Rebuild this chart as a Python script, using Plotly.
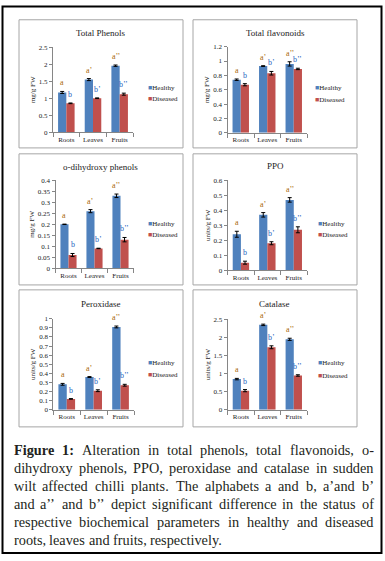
import plotly.graph_objects as go

# ---------------- data ----------------
categories = ["Roots", "Leaves", "Fruits"]
series_names = ["Healthy", "Diseased"]
healthy_letters = ["a", "a’", "a’’"]
diseased_letters = ["b", "b’", "b’’"]

phenols_title = "Total Phenols"
phenols_unit = "mg/g FW"
phenols_healthy = [1.17, 1.55, 1.96]
phenols_diseased = [0.85, 1.00, 1.12]
phenols_healthy_err = [0.03, 0.03, 0.02]
phenols_diseased_err = [0.01, 0.01, 0.03]
phenols_ticks = [0, 0.5, 1, 1.5, 2, 2.5]

flavonoids_title = "Total flavonoids"
flavonoids_unit = "mg/g FW"
flavonoids_healthy = [0.74, 0.93, 0.96]
flavonoids_diseased = [0.67, 0.83, 0.89]
flavonoids_healthy_err = [0.01, 0.005, 0.03]
flavonoids_diseased_err = [0.015, 0.025, 0.01]
flavonoids_ticks = [0, 0.2, 0.4, 0.6, 0.8, 1, 1.2]

odp_title = "o-dihydroxy phenols"
odp_unit = "mg/g FW"
odp_healthy = [0.20, 0.26, 0.33]
odp_diseased = [0.06, 0.09, 0.13]
odp_healthy_err = [0.001, 0.007, 0.008]
odp_diseased_err = [0.007, 0.001, 0.01]
odp_ticks = [0, 0.05, 0.1, 0.15, 0.2, 0.25, 0.3, 0.35, 0.4]

ppo_title = "PPO"
ppo_unit = "units/g FW"
ppo_healthy = [0.24, 0.37, 0.47]
ppo_diseased = [0.05, 0.18, 0.27]
ppo_healthy_err = [0.02, 0.015, 0.015]
ppo_diseased_err = [0.01, 0.01, 0.02]
ppo_ticks = [0, 0.1, 0.2, 0.3, 0.4, 0.5, 0.6]

perox_title = "Peroxidase"
perox_unit = "units/g FW"
perox_healthy = [0.28, 0.36, 0.91]
perox_diseased = [0.12, 0.21, 0.27]
perox_healthy_err = [0.01, 0.005, 0.01]
perox_diseased_err = [0.003, 0.01, 0.01]
perox_ticks = [0, 0.1, 0.2, 0.3, 0.4, 0.5, 0.6, 0.7, 0.8, 0.9, 1]

catalase_title = "Catalase"
catalase_unit = "units/g FW"
catalase_healthy = [0.85, 2.35, 1.95]
catalase_diseased = [0.53, 1.73, 0.95]
catalase_healthy_err = [0.02, 0.02, 0.03]
catalase_diseased_err = [0.03, 0.04, 0.02]
catalase_ticks = [0, 0.5, 1, 1.5, 2, 2.5]

caption_lines = [
    "Figure 1: Alteration in total phenols, total flavonoids, o-",
    "dihydroxy phenols, PPO, peroxidase and catalase in sudden",
    "wilt affected chilli plants. The alphabets a and b, a’and b’",
    "and a’’ and b’’ depict significant difference in the status of",
    "respective biochemical parameters in healthy and diseased",
    "roots, leaves and fruits, respectively.",
]

# ---------------- styling / layout ----------------
W, H = 385, 561
HEALTHY_COLOR = "#4F81BD"
DISEASED_COLOR = "#C0504D"
HEALTHY_LETTER_COLOR = "#a8690a"
DISEASED_LETTER_COLOR = "#1f66c0"
AXIS_COLOR = "#868686"
TEXT_COLOR = "#1a1a1a"
SERIF = "Liberation Serif"
BARGAP = 0.38


def fx(px):
    return px / W


def fy(py):
    return 1 - py / H


panels = [
    dict(title=phenols_title, unit=phenols_unit, h=phenols_healthy, d=phenols_diseased,
         he=phenols_healthy_err, de=phenols_diseased_err, ticks=phenols_ticks,
         box=(19, 16, 183, 146), px=(53, 133), py=(130, 44), tpos=(101, 29),
         leg=(146, 85.7, 96.7)),
    dict(title=flavonoids_title, unit=flavonoids_unit, h=flavonoids_healthy, d=flavonoids_diseased,
         he=flavonoids_healthy_err, de=flavonoids_diseased_err, ticks=flavonoids_ticks,
         box=(193, 16, 357, 146), px=(227.5, 307), py=(130.7, 43.3), tpos=(275, 29),
         leg=(313, 85, 97)),
    dict(title=odp_title, unit=odp_unit, h=odp_healthy, d=odp_diseased,
         he=odp_healthy_err, de=odp_diseased_err, ticks=odp_ticks,
         box=(19, 152, 183, 285), px=(55.5, 133.5), py=(268, 179), tpos=(101, 165),
         leg=(146, 222.7, 234)),
    dict(title=ppo_title, unit=ppo_unit, h=ppo_healthy, d=ppo_diseased,
         he=ppo_healthy_err, de=ppo_diseased_err, ticks=ppo_ticks,
         box=(193, 152, 357, 285), px=(227.7, 307), py=(270, 179), tpos=(275, 164),
         leg=(316, 223, 234)),
    dict(title=perox_title, unit=perox_unit, h=perox_healthy, d=perox_diseased,
         he=perox_healthy_err, de=perox_diseased_err, ticks=perox_ticks,
         box=(19, 290, 183, 429), px=(53.3, 134), py=(411.7, 319.3), tpos=(101, 304),
         leg=(146, 364, 376.7)),
    dict(title=catalase_title, unit=catalase_unit, h=catalase_healthy, d=catalase_diseased,
         he=catalase_healthy_err, de=catalase_diseased_err, ticks=catalase_ticks,
         box=(193, 290, 357, 429), px=(227.7, 307), py=(411.7, 320), tpos=(274, 304),
         leg=(316, 364, 377)),
]

fig = go.Figure()
annotations = []
shapes = []
layout_axes = {}

for k, p in enumerate(panels):
    n = "" if k == 0 else str(k + 1)
    xa, ya = "x" + n, "y" + n
    for name, vals, errs, color in (
        (series_names[0], p["h"], p["he"], HEALTHY_COLOR),
        (series_names[1], p["d"], p["de"], DISEASED_COLOR),
    ):
        fig.add_trace(go.Bar(
            x=categories, y=vals, name=name, xaxis=xa, yaxis=ya,
            marker=dict(color=color, line=dict(width=0)),
            error_y=dict(type="data", array=errs, color="black", thickness=1, width=2),
            showlegend=False,
        ))
    ticks = p["ticks"]
    layout_axes["xaxis" + n] = dict(
        domain=[fx(p["px"][0]), fx(p["px"][1])], anchor=ya,
        type="category", range=[-0.5, 2.5], showline=True, linecolor=AXIS_COLOR, linewidth=1,
        ticks="outside", tickson="boundaries", ticklen=4, tickcolor=AXIS_COLOR, tickangle=0,
        tickfont=dict(family=SERIF, size=7, color=TEXT_COLOR), showgrid=False, zeroline=False,
        fixedrange=True,
    )
    layout_axes["yaxis" + n] = dict(
        domain=[fy(p["py"][0]), fy(p["py"][1])], anchor=xa,
        range=[ticks[0], ticks[-1]], tickvals=ticks, ticktext=[f"{t:g}" for t in ticks],
        showline=True, linecolor=AXIS_COLOR, linewidth=1,
        ticks="outside", ticklen=3, tickcolor=AXIS_COLOR,
        tickfont=dict(family=SERIF, size=7, color=TEXT_COLOR), showgrid=False, zeroline=False,
        title=dict(text=p["unit"], font=dict(family=SERIF, size=7, color=TEXT_COLOR), standoff=2),
        fixedrange=True,
    )
    # panel border
    x0, y0, x1, y1 = p["box"]
    shapes.append(dict(type="rect", xref="paper", yref="paper",
                       x0=fx(x0), x1=fx(x1), y0=fy(y1), y1=fy(y0),
                       line=dict(color="#a6a6a6", width=1), fillcolor="rgba(0,0,0,0)"))
    # title
    annotations.append(dict(text=p["title"], xref="paper", yref="paper",
                            x=fx(p["tpos"][0]), y=fy(p["tpos"][1]), xanchor="center", yanchor="middle",
                            showarrow=False, font=dict(family=SERIF, size=9, color=TEXT_COLOR)))
    # legend
    lx, ly1, ly2 = p["leg"]
    for name, color, ly in ((series_names[0], HEALTHY_COLOR, ly1), (series_names[1], DISEASED_COLOR, ly2)):
        annotations.append(dict(
            text=f'<span style="color:{color}">■</span>{name}', xref="paper", yref="paper",
            x=fx(lx), y=fy(ly), xanchor="left", yanchor="middle", showarrow=False,
            font=dict(family=SERIF, size=7, color=TEXT_COLOR)))
    # significance letters
    off = (1 - BARGAP) / 4
    for i in range(len(categories)):
        annotations.append(dict(text=healthy_letters[i], xref=xa, yref=ya, x=i - off,
                                y=p["h"][i] + p["he"][i], xanchor="center", yanchor="bottom",
                                yshift=2, showarrow=False,
                                font=dict(family=SERIF, size=8, color=HEALTHY_LETTER_COLOR)))
        annotations.append(dict(text=diseased_letters[i], xref=xa, yref=ya, x=i + off,
                                y=p["d"][i] + p["de"][i], xanchor="center", yanchor="bottom",
                                yshift=2, showarrow=False,
                                font=dict(family=SERIF, size=8, color=DISEASED_LETTER_COLOR)))

# ---------------- caption (justified, Times metrics) ----------------
TIMES = {' ': 250, ',': 250, '.': 250, ':': 278, '-': 333, '’': 333, "'": 180,
         '0': 500, '1': 500, '2': 500, '3': 500, '4': 500, '5': 500, '6': 500, '7': 500, '8': 500, '9': 500,
         'A': 722, 'B': 667, 'C': 667, 'D': 722, 'E': 611, 'F': 556, 'G': 722, 'H': 722, 'I': 333,
         'J': 389, 'K': 722, 'L': 611, 'M': 889, 'N': 722, 'O': 722, 'P': 556, 'Q': 722, 'R': 667,
         'S': 556, 'T': 611, 'U': 722, 'V': 722, 'W': 944, 'X': 722, 'Y': 722, 'Z': 611,
         'a': 444, 'b': 500, 'c': 444, 'd': 500, 'e': 444, 'f': 333, 'g': 500, 'h': 500, 'i': 278,
         'j': 278, 'k': 500, 'l': 278, 'm': 778, 'n': 500, 'o': 500, 'p': 500, 'q': 500, 'r': 333,
         's': 389, 't': 278, 'u': 500, 'v': 500, 'w': 722, 'x': 500, 'y': 500, 'z': 444}
TIMES_BOLD = {'F': 611, 'i': 278, 'g': 500, 'u': 556, 'r': 444, 'e': 444, '1': 500, ':': 333}

CAP_SIZE = 14.3
CAP_LEFT, CAP_RIGHT = 11.5, 371.5
CAP_Y0, CAP_DY = 452, 18.3


def word_width(w, bold):
    table = TIMES_BOLD if bold else TIMES
    return sum(table.get(c, TIMES.get(c, 500)) for c in w) * CAP_SIZE / 1000


for li, line in enumerate(caption_lines):
    words = line.split(" ")
    bolds = [li == 0 and wi < 2 for wi in range(len(words))]
    widths = [word_width(w, b) for w, b in zip(words, bolds)]
    last = li == len(caption_lines) - 1
    if last:
        gap = TIMES[' '] * CAP_SIZE / 1000
    else:
        gap = (CAP_RIGHT - CAP_LEFT - sum(widths)) / (len(words) - 1)
    x = CAP_LEFT
    y = CAP_Y0 + li * CAP_DY
    for w, b, wd in zip(words, bolds, widths):
        annotations.append(dict(text=f"<b>{w}</b>" if b else w, xref="paper", yref="paper",
                                x=fx(x), y=fy(y), xanchor="left", yanchor="middle", showarrow=False,
                                font=dict(family=SERIF, size=CAP_SIZE, color="#231f20")))
        x += wd + gap

# outer frame
shapes.append(dict(type="rect", xref="paper", yref="paper", x0=fx(2.5), x1=fx(381.5),
                   y0=fy(557), y1=fy(2.5), line=dict(color="black", width=2),
                   fillcolor="rgba(0,0,0,0)"))

fig.update_layout(
    width=W, height=H, margin=dict(l=0, r=0, t=0, b=0),
    paper_bgcolor="white", plot_bgcolor="white",
    barmode="group", bargap=BARGAP, bargroupgap=0,
    showlegend=False, annotations=annotations, shapes=shapes,
    font=dict(family=SERIF, color=TEXT_COLOR),
    **layout_axes,
)

fig.write_html("out.html", config={"displayModeBar": False},
               post_script="document.body.style.margin='0px';")
